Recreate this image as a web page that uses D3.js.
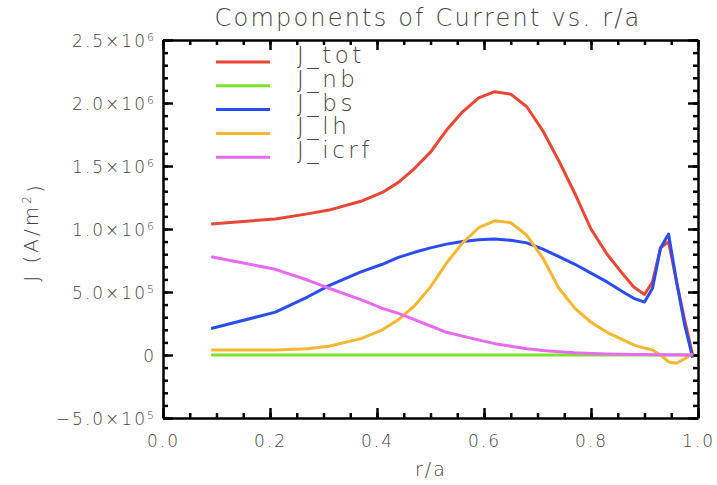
<!DOCTYPE html>
<html>
<head>
<meta charset="utf-8">
<script src="https://cdn.jsdelivr.net/npm/d3@7"></script>
<style>
  body { margin: 0; background: #fff; }
  svg { font-family: "DejaVu Sans", sans-serif; font-weight: 200; }
  .axis path, .axis line { stroke: #000; stroke-width: 2.5; }
  .axis text { fill: #444; font-size: 17px; letter-spacing: 2px; font-family: "DejaVu Sans", sans-serif; font-weight: 200; }
</style>
</head>
<body>
<div class="wrapper"></div>
<script>
var rho = [0.09, 0.21, 0.27, 0.31, 0.37, 0.41, 0.44, 0.47, 0.50, 0.53, 0.56, 0.59, 0.62, 0.65,
  0.68, 0.71, 0.74, 0.77, 0.80, 0.83, 0.86, 0.88, 0.90, 0.915, 0.93, 0.945, 0.96, 0.975, 0.99];

// values in units of 1e6 A/m^2
var jTot = [1.04, 1.08, 1.12, 1.15, 1.22, 1.29, 1.37, 1.48, 1.61, 1.785, 1.93, 2.04, 2.09, 2.07,
  1.97, 1.78, 1.54, 1.28, 1.0, 0.8, 0.64, 0.54, 0.48, 0.58, 0.85, 0.9, 0.58, 0.28, 0.0];
var jNb = [0, 0, 0, 0, 0, 0, 0, 0, 0, 0, 0, 0, 0, 0, 0, 0, 0, 0, 0, 0, 0, 0, 0, 0, 0, 0, 0, 0, 0];
var jBs = [0.21, 0.34, 0.46, 0.55, 0.66, 0.72, 0.775, 0.815, 0.85, 0.88, 0.90, 0.915, 0.92, 0.91,
  0.89, 0.84, 0.78, 0.72, 0.65, 0.58, 0.50, 0.45, 0.42, 0.53, 0.85, 0.96, 0.58, 0.24, -0.02];
var jLh = [0.04, 0.04, 0.05, 0.07, 0.13, 0.2, 0.28, 0.39, 0.54, 0.73, 0.89, 1.01, 1.065, 1.05,
  0.95, 0.77, 0.53, 0.37, 0.26, 0.18, 0.12, 0.08, 0.055, 0.04, 0.0, -0.055, -0.065, -0.03, 0.01];
var jIcrf = [0.78, 0.68, 0.595, 0.53, 0.44, 0.37, 0.33, 0.28, 0.23, 0.18, 0.15, 0.12, 0.09, 0.07,
  0.05, 0.035, 0.025, 0.017, 0.012, 0.008, 0.005, 0.004, 0.003, 0.002, 0.002, 0.001, 0.001, 0.0, 0.0];

var seriesNames = ["J_tot", "J_nb", "J_bs", "J_lh", "J_icrf"];
var seriesValues = [jTot, jNb, jBs, jLh, jIcrf];
var seriesColors = ["#ea4634", "#7ce22c", "#2a4cf0", "#f5b730", "#e96af2"];

var yTicks = [-5e5, 0, 5e5, 1e6, 1.5e6, 2e6, 2.5e6];
var yLabels = [["\u22125.0\u00d710", "5"], ["0", ""], ["5.0\u00d710", "5"], ["1.0\u00d710", "6"],
  ["1.5\u00d710", "6"], ["2.0\u00d710", "6"], ["2.5\u00d710", "6"]];
var xTicks = [0, 0.2, 0.4, 0.6, 0.8, 1.0];

var W = 717, H = 485;
var m = { left: 163, right: 19, top: 40, bottom: 67 };

var svg = d3.select(".wrapper").append("svg").attr("width", W).attr("height", H);

var x = d3.scaleLinear().domain([0, 1]).range([m.left, W - m.right]);
var y = d3.scaleLinear().domain([-5e5, 2.5e6]).range([H - m.bottom, m.top]);

var xMinor = d3.range(0, 1.0001, 0.05);
var yMinor = d3.range(-5e5, 2.5e6 + 1, 1e5);

function minorAxis (axisFn, scale, vals, tx) {
  svg.append("g").attr("class", "axis").attr("transform", tx)
    .call(axisFn(scale).tickValues(vals).tickSize(-5).tickFormat(""))
    .select(".domain").remove();
}

minorAxis(d3.axisLeft, y, yMinor, "translate(" + m.left + ",0)");
minorAxis(d3.axisRight, y, yMinor, "translate(" + (W - m.right) + ",0)");
minorAxis(d3.axisBottom, x, xMinor, "translate(0," + (H - m.bottom) + ")");
minorAxis(d3.axisTop, x, xMinor, "translate(0," + m.top + ")");

// left axis with labels
var yAxis = svg.append("g").attr("class", "axis").attr("transform", "translate(" + m.left + ",0)")
  .call(d3.axisLeft(y).tickValues(yTicks).tickSize(-10).tickSizeOuter(0).tickPadding(7).tickFormat(""));
yAxis.selectAll(".tick text").each(function (d, i) {
  var t = d3.select(this).attr("dy", "0.4em");
  var lab = yLabels[yTicks.indexOf(d)];
  t.append("tspan").text(lab[0]);
  if (lab[1]) t.append("tspan").attr("dy", "-0.55em").style("font-size", "11px").text(lab[1]);
});

svg.append("g").attr("class", "axis").attr("transform", "translate(" + (W - m.right) + ",0)")
  .call(d3.axisRight(y).tickValues(yTicks).tickSize(-10).tickSizeOuter(0).tickFormat(""));

svg.append("g").attr("class", "axis").attr("transform", "translate(0," + (H - m.bottom) + ")")
  .call(d3.axisBottom(x).tickValues(xTicks).tickSize(-10).tickSizeOuter(0).tickPadding(17)
    .tickFormat(d3.format(".1f")));

svg.append("g").attr("class", "axis").attr("transform", "translate(0," + m.top + ")")
  .call(d3.axisTop(x).tickValues(xTicks).tickSize(-10).tickSizeOuter(0).tickFormat(""));

// lines
var line = d3.line()
  .x(function (d, i) { return x(rho[i]); })
  .y(function (d) { return y(d * 1e6); });

svg.append("g").selectAll("path").data(seriesValues).enter().append("path")
  .attr("d", line)
  .attr("fill", "none")
  .attr("stroke", function (d, i) { return seriesColors[i]; })
  .attr("stroke-width", 3)
  .attr("stroke-linejoin", "round");

// legend
var lg = svg.append("g").selectAll("g").data(seriesNames).enter().append("g")
  .attr("transform", function (d, i) { return "translate(216," + (62 + i * 23.8) + ")"; });
lg.append("line").attr("x1", 0).attr("x2", 54)
  .attr("stroke", function (d, i) { return seriesColors[i]; }).attr("stroke-width", 3);
lg.append("text").attr("x", 81).attr("y", 1).text(function (d) { return d; })
  .attr("fill", "#444").style("font-size", "23px").style("letter-spacing", "3.5px");

// titles
svg.append("text").attr("x", 428).attr("y", 26).attr("text-anchor", "middle")
  .attr("fill", "#444").style("font-size", "24px").style("letter-spacing", "2.2px")
  .text("Components of Current vs. r/a");

svg.append("text").attr("x", 431).attr("y", 476).attr("text-anchor", "middle")
  .attr("fill", "#444").style("font-size", "19px").style("letter-spacing", "2px").text("r/a");

var yt = svg.append("text").attr("transform", "translate(38,232) rotate(-90)")
  .attr("text-anchor", "middle").attr("fill", "#444").style("font-size", "20px")
  .style("letter-spacing", "3px");
yt.append("tspan").text("J (A/m");
yt.append("tspan").attr("dy", "-0.55em").style("font-size", "12px").text("2");
yt.append("tspan").attr("dy", "0.55em").text(")");
</script>
</body>
</html>
